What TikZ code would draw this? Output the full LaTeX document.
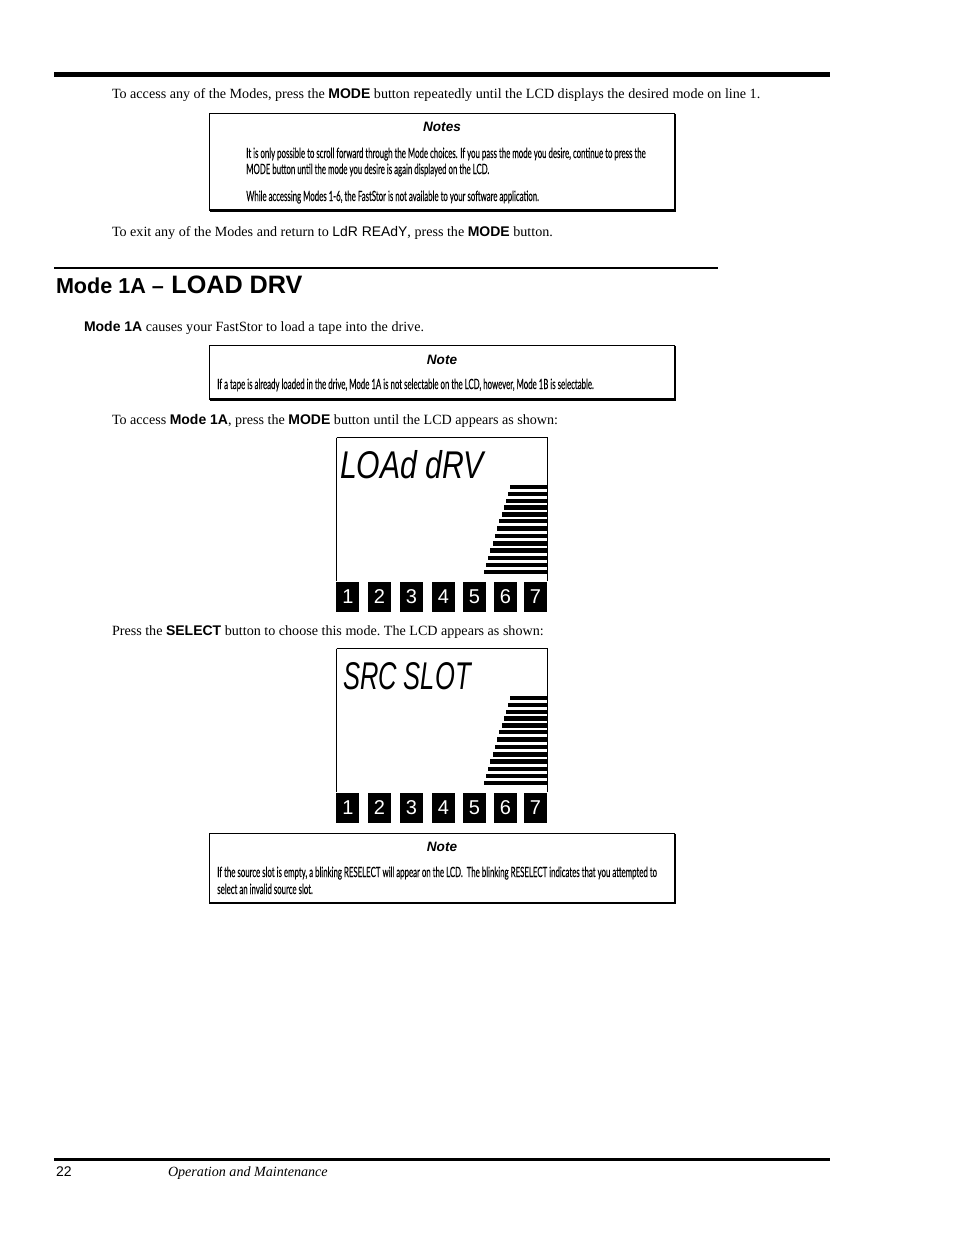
\documentclass[tikz,border=0pt]{standalone}
\usepackage{fontspec}
\setmainfont{Liberation Serif}
\newfontfamily\arialf{Liberation Sans}
\newfontfamily\condf[FakeStretch=0.555,FakeBold=0.12]{Lato}
\newfontfamily\lcdaf[FakeStretch=0.78]{Liberation Sans}
\newfontfamily\lcdbf[FakeStretch=0.66]{Liberation Sans}
\newcommand{\bodyt}{\frenchspacing\fontsize{10.58}{14}\selectfont}
\newcommand{\bodyb}[1]{{\arialf\bfseries\fontsize{10.5}{14}\selectfont #1}}
\newcommand{\bodys}[1]{{\arialf\fontsize{10.45}{14}\selectfont #1}}
\tikzset{x=0.75pt,y=-0.75pt,
 txt/.style={anchor=base west,inner sep=0,outer sep=0,font=\bodyt},
 notetitle/.style={anchor=base,inner sep=0,font=\arialf\bfseries\itshape\fontsize{10.2}{12}\selectfont},
 notetxt/.style={anchor=base west,inner sep=0,font=\condf\fontsize{10.6}{12}\selectfont},
 num/.style={fill=black,text=white,minimum width=17.3pt,minimum height=22.5pt,inner sep=0,outer sep=0,anchor=north west,font=\arialf\fontsize{15}{15}\selectfont},
 lcd/.style={anchor=base west,inner sep=0,outer sep=0},
 bar/.style={fill=black,draw=none}}
\newcommand{\notebox}[2]{%
 \draw[black,line width=0.7pt] (209.5,#1) rectangle (674.5,#2);
 \draw[black,line width=1.9pt] (675,#1) -- (675,#2) -- (209.5,#2);
}
\newcommand{\lcdpanel}[1]{%
 \begin{scope}[yshift=-#1*0.75pt]
 \draw[black,line width=0.7pt] (336.5,437.5) -- (547.5,437.5) -- (547.5,581) (336.5,437.5) -- (336.5,581);
 \foreach \l/\t in {510.3/487,508.3/494,506/501,504/507.5,501.7/514.2,499.3/521,497/528.7,494.7/536,492.7/543.3,490.3/550.7,488/558,486/565,483.7/572}
   \fill[bar] (\l,\t-2.4) rectangle (546.5,\t+2.4);
 \foreach \x/\n in {336.3/1,368/2,400/3,432/4,463/5,494/6,524/7}
   \node[num] at (\x,581.7) {\n};
 \end{scope}
}
\begin{document}
\begin{tikzpicture}
\useasboundingbox (0,0) rectangle (954,1235);
\fill[white] (0,0) rectangle (954,1235);
\fill[black] (54,72) rectangle (830,77);
\node[txt] (t1) at (112,98) {To access any of the Modes, press the \bodyb{MODE} button repeatedly until the LCD displays the desired mode on line 1.};
\notebox{113.7}{210.5}
\node[notetitle] (n1) at (442,131) {Notes};
\node[notetxt] (n1a) at (246,158) {It is only possible to scroll forward through the Mode choices. If you pass the mode you desire, continue to press the};
\node[notetxt] (n1b) at (246,174) {MODE button until the mode you desire is again displayed on the LCD.};
\node[notetxt] (n1c) at (246,201) {While accessing Modes 1-6, the FastStor is not available to your software application.};
\node[txt] (t2) at (112,236) {To exit any of the Modes and return to \bodys{LdR REAdY}, press the \bodyb{MODE} button.};
\fill[black] (54,267) rectangle (718,269.2);
\node[txt,font=\arialf\bfseries\fontsize{16.2}{18}\selectfont] (h1) at (56,293) {Mode 1A – {\hspace{1pt}\fontsize{18.9}{20}\selectfont LOAD DRV}};
\node[txt] (t3) at (84,331) {\bodyb{Mode 1A} causes your FastStor to load a tape into the drive.};
\notebox{345.5}{399.5}
\node[notetitle] (n2) at (442,364) {Note};
\node[notetxt] (n2a) at (217,389) {If a tape is already loaded in the drive, Mode 1A is not selectable on the LCD, however, Mode 1B is selectable.};
\node[txt] (t4) at (112,424) {To access \bodyb{Mode 1A}, press the \bodyb{MODE} button until the LCD appears as shown:};
\lcdpanel{0}
\node[lcd,font=\lcdaf\itshape\fontsize{29}{30}\selectfont] (l1) at (340,478) {LOAd dRV};
\node[txt] (t5) at (112,635) {Press the \bodyb{SELECT} button to choose this mode. The LCD appears as shown:};
\lcdpanel{211}
\node[lcd,font=\lcdbf\itshape\fontsize{29}{30}\selectfont] (l2) at (343,689) {SRC SLOT};
\notebox{833.5}{903}
\node[notetitle] (n3) at (442,851) {Note};
\node[notetxt] (n3a) at (217,877) {If the source slot is empty, a blinking RESELECT will appear on the LCD.\ \ The blinking RESELECT indicates that you attempted to};
\node[notetxt] (n3b) at (217,894) {select an invalid source slot.};
\fill[black] (54,1158) rectangle (830,1160.5);
\node[txt,font=\arialf\fontsize{10.5}{12}\selectfont] (p) at (56,1176) {22};
\node[txt,font=\itshape\fontsize{10.57}{12}\selectfont] (f) at (168,1176) {Operation and Maintenance};
\end{tikzpicture}
\end{document}
